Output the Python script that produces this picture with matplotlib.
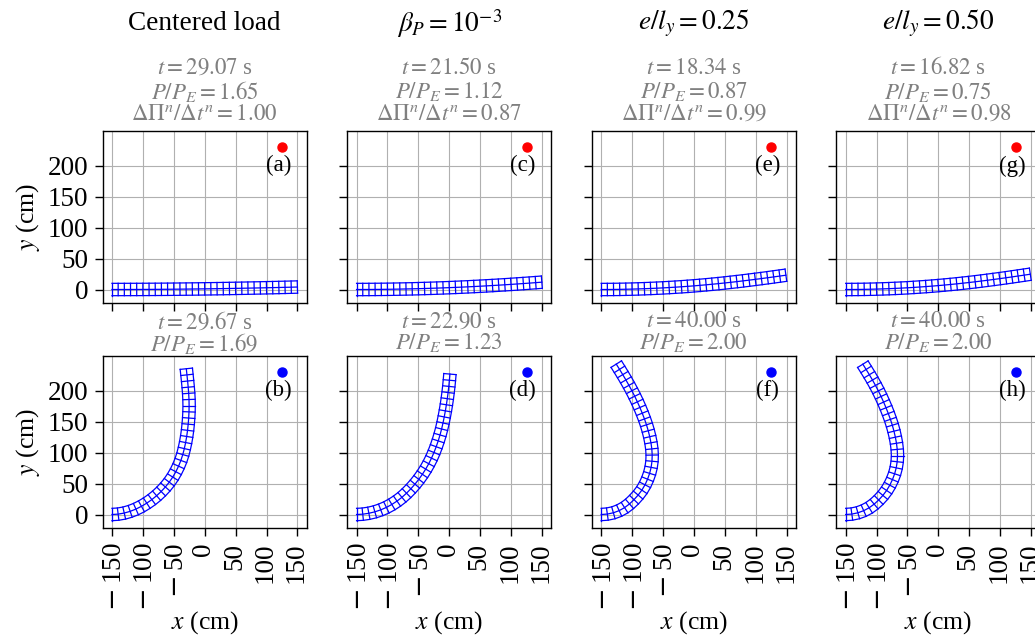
import numpy as np
import matplotlib
matplotlib.use("Agg")
import matplotlib.pyplot as plt
from matplotlib.transforms import ScaledTranslation

plt.rcParams['font.family'] = ['Liberation Serif', 'DejaVu Sans']
plt.rcParams['mathtext.fontset'] = 'stix'

W, H = 1035, 639

# section rotation (degrees) read at each of the 31 stations along the beam
rot_a = [0, 0.1, 0.1, 0.2, 0.2, 0.3, 0.3, 0.4, 0.4, 0.5, 0.5, 0.6, 0.6, 0.7, 0.7, 0.8,
         0.8, 0.9, 0.9, 1.0, 1.0, 1.1, 1.1, 1.2, 1.2, 1.2, 1.3, 1.3, 1.4, 1.4, 1.5]
rot_c = [0, 0.2, 0.3, 0.5, 0.6, 0.8, 0.9, 1.1, 1.2, 1.4, 1.5, 1.7, 1.8, 2.0, 2.1, 2.3,
         2.4, 2.6, 2.7, 2.9, 3.0, 3.2, 3.3, 3.5, 3.6, 3.8, 3.9, 4.0, 4.2, 4.3, 4.5]
rot_e = [0, 0.3, 0.6, 0.9, 1.2, 1.5, 1.8, 2.1, 2.4, 2.7, 3.0, 3.3, 3.6, 3.9, 4.2, 4.6,
         4.9, 5.2, 5.5, 5.8, 6.1, 6.4, 6.6, 6.9, 7.1, 7.3, 7.5, 7.7, 7.8, 7.9, 8.0]
rot_g = [0, 0.3, 0.6, 1.0, 1.3, 1.6, 1.9, 2.2, 2.6, 2.9, 3.2, 3.6, 3.9, 4.2, 4.6, 4.9,
         5.2, 5.6, 5.9, 6.2, 6.5, 6.8, 7.1, 7.4, 7.6, 7.8, 8.0, 8.2, 8.3, 8.4, 8.5]
rot_b = [0, 7, 13, 19, 24, 29, 33, 37, 41, 45, 49, 53, 58, 62, 66, 70,
         74, 77, 79, 81, 83, 85, 86, 88, 90, 92, 94, 95, 96, 96, 96]
rot_d = [0, 6, 11, 16, 21, 26, 31, 35, 40, 44, 47, 50, 53, 56, 59, 62,
         65, 68, 70, 72, 74, 76, 78, 79, 80, 81, 82, 83, 84, 85, 85]
rot_f = [0, 8, 16, 25, 33, 41, 46, 50, 56, 63, 68, 73, 79, 85, 91, 96,
         100, 103, 105, 108, 110, 112, 113, 115, 116, 118, 119, 120, 121, 122, 122]
rot_h = [0, 8, 16, 24, 32, 40, 45, 50, 56, 62, 67, 72, 78, 84, 90, 95,
         99, 102, 104, 107, 109, 111, 112, 114, 115, 117, 118, 120, 121, 122, 122]

top_rots = [rot_a, rot_c, rot_e, rot_g]
bot_rots = [rot_b, rot_d, rot_f, rot_h]
top_tags = ['(a)', '(c)', '(e)', '(g)']
bot_tags = ['(b)', '(d)', '(f)', '(h)']

col_titles = ['Centered load', r'$\beta_P = 10^{-3}$', r'$e/l_y = 0.25$', r'$e/l_y = 0.50$']
top_t = ['29.07', '21.50', '18.34', '16.82']
top_load = ['1.65', '1.12', '0.87', '0.75']
top_ratio = ['1.00', '0.87', '0.99', '0.98']
bot_t = ['29.67', '22.90', '40.00', '40.00']
bot_load = ['1.69', '1.23', '2.00', '2.00']

x_ticks = [-150, -100, -50, 0, 50, 100, 150]
x_ticklabels = [r'$-\,$150', r'$-\,$100', r'$-\,$50', '0', '50', '100', '150']
y_ticks = [0, 50, 100, 150, 200]

cell = 10.0
half = 10.0


def draw_mesh(ax, rot):
    th = np.radians(rot)
    mid = 0.5 * (th[1:] + th[:-1])
    xc = -150 + np.concatenate([[0], np.cumsum(cell * np.cos(mid))])
    yc = np.concatenate([[0], np.cumsum(cell * np.sin(mid))])
    nx, ny = -np.sin(th), np.cos(th)
    for s in [-1, 0, 1]:
        ax.plot(xc + s * half * nx, yc + s * half * ny, color='blue', lw=0.9)
    for i in range(len(xc)):
        ax.plot([xc[i] - half * nx[i], xc[i] + half * nx[i]],
                [yc[i] - half * ny[i], yc[i] + half * ny[i]], color='blue', lw=0.9)


def ftext(x, y, s, **kw):
    # positions given in image pixels
    return fig.text(x / W, 1 - y / H, s, ha='center', va='center', **kw)


fig = plt.figure(figsize=(W / 100, H / 100), dpi=100)

lefts = [102.7, 347.3, 591.9, 836.4]
ax_w, ax_h = 204, 172.4
tops = [130.7, 355.7]

for j, left in enumerate(lefts):
    for r, top in enumerate(tops):
        ax = fig.add_axes([left / W, 1 - (top + ax_h) / H, ax_w / W, ax_h / H])
        draw_mesh(ax, (top_rots if r == 0 else bot_rots)[j])
        dot = 'red' if r == 0 else 'blue'
        ax.plot([125], [230], 'o', color=dot, ms=6.5)
        ax.text(119, 200, (top_tags if r == 0 else bot_tags)[j], fontsize=16.5,
                ha='center', va='center')
        ax.set_xlim(-165, 165)
        ax.set_ylim(-22, 257)
        ax.set_xticks(x_ticks)
        ax.set_yticks(y_ticks)
        ax.grid(True)
        ax.set_axisbelow(True)
        ax.tick_params(length=5.5, width=1, labelsize=19.5, pad=5)
        for sp in ax.spines.values():
            sp.set_linewidth(1.0)
        if j == 0:
            ax.set_ylabel('$y$ (cm)', fontsize=18.5)
            ax.yaxis.set_label_coords(-0.30, 0.5)
        else:
            ax.set_yticklabels([])
        if r == 1:
            ax.set_xticklabels(x_ticklabels, rotation=90)
            for lab, tick in zip(ax.get_xticklabels(), x_ticks):
                lab.set_math_fontfamily('dejavusans')
                # nudge sideways, the minus sign shifts the rotated box
                dx = 3 if tick < 0 else -1
                lab.set_transform(lab.get_transform() + ScaledTranslation(dx / 100, 0, fig.dpi_scale_trans))
            ax.set_xlabel('$x$ (cm)', fontsize=18.5)
            ax.xaxis.set_label_coords(0.5, -0.47)
        else:
            ax.set_xticklabels([])

    cx = left + ax_w / 2
    ftext(cx, 23.5, col_titles[j], fontsize=19.6)
    ftext(cx, 68, '$t = %s$ s' % top_t[j], fontsize=16.5, color='gray')
    ftext(cx, 91.5, '$P/P_E = %s$' % top_load[j], fontsize=16.5, color='gray')
    ftext(cx, 114.5, r'$\Delta\Pi^n/\Delta t^n = %s$' % top_ratio[j], fontsize=16.5, color='gray')
    ftext(cx, 322, '$t = %s$ s' % bot_t[j], fontsize=16.5, color='gray')
    ftext(cx, 343, '$P/P_E = %s$' % bot_load[j], fontsize=16.5, color='gray')

fig.savefig('out.png', dpi=100)
